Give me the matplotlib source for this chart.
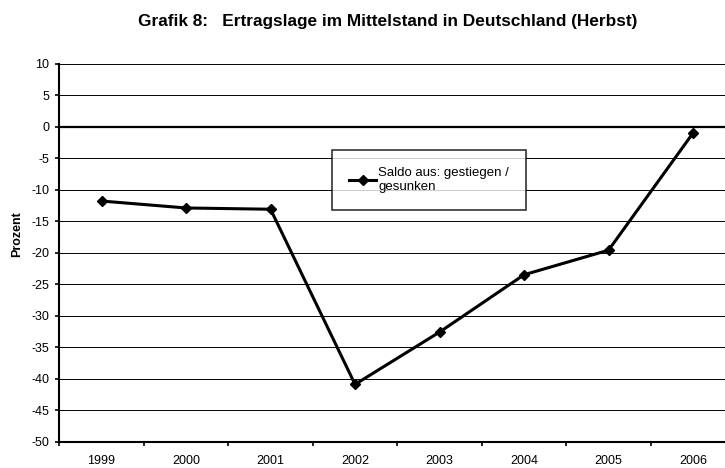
import matplotlib
matplotlib.use("Agg")
import matplotlib.pyplot as plt
import numpy as np

plt.rcParams['font.family'] = ['Liberation Sans', 'DejaVu Sans']

# Daten
jahre = ['1999', '2000', '2001', '2002', '2003', '2004', '2005', '2006']
saldo = [-11.8, -12.9, -13.1, -40.9, -32.6, -23.5, -19.6, -1.0]
y_ticks = list(range(-50, 11, 5))

fig = plt.figure(figsize=(7.25, 4.68), dpi=100)
# Achse ragt rechts leicht über den Bildrand hinaus (wie im Original)
ax = fig.add_axes([59.3 / 725, 26.3 / 468, 676 / 725, 378 / 468])

x = np.arange(len(jahre))
ax.plot(x, saldo, color='black', lw=2.2, marker='D', ms=5.5,
        label='Saldo aus: gestiegen /\ngesunken', zorder=3)

ax.set_xlim(-0.5, len(jahre) - 0.5)
ax.set_ylim(-50, 10)
ax.set_yticks(y_ticks)
ax.set_yticklabels([str(v) for v in y_ticks], fontsize=9)
for v in y_ticks:
    if v == 0:
        ax.axhline(v, color='black', lw=1.6, zorder=2)
    elif v > -50:
        ax.axhline(v, color='black', lw=0.7, zorder=1)

ax.set_xticks(x)
ax.set_xticklabels(jahre, fontsize=9)
ax.set_xticks(np.arange(-0.5, len(jahre)), minor=True)
ax.tick_params(axis='x', which='major', length=0, pad=9.5)
ax.tick_params(axis='x', which='minor', length=3, width=1.2, direction='out')
ax.tick_params(axis='y', length=3, width=1.2, direction='out', pad=4.3)

for side in ['top', 'right']:
    ax.spines[side].set_visible(False)
ax.spines['left'].set_linewidth(1.5)
ax.spines['bottom'].set_linewidth(1.5)

fig.text(17 / 725, 0.5, 'Prozent', rotation=90, ha='center', va='center',
         fontsize=9, fontweight='bold')

leg = ax.legend(loc='upper left', bbox_to_anchor=((332 - 59.3) / 676, (441.7 - 150) / 378),
                fontsize=9.5, frameon=True, fancybox=False, handlelength=2.05,
                handletextpad=0.15, borderpad=1.3, borderaxespad=0)
leg.get_texts()[0].set_linespacing(1.15)
leg.get_frame().set_edgecolor('black')
leg.get_frame().set_linewidth(1.2)

fig.text(388 / 725, 1 - 26 / 468, 'Grafik 8:   Ertragslage im Mittelstand in Deutschland (Herbst)',
         ha='center', va='baseline', fontsize=12.4, fontweight='bold')

fig.savefig('out.png', dpi=100)
